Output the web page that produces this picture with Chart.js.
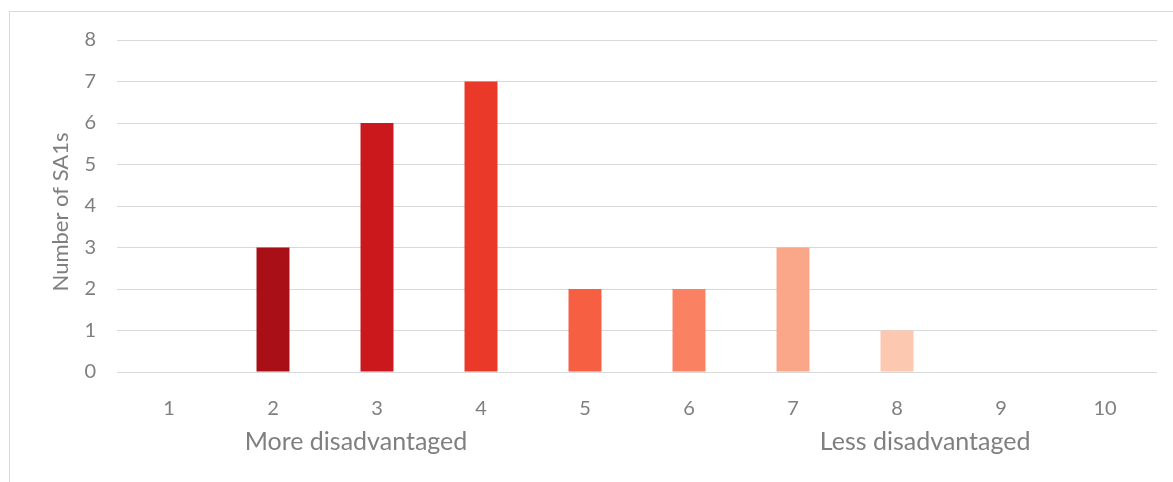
<!DOCTYPE html>
<html>
<head>
<meta charset="utf-8">
<script src="https://cdn.jsdelivr.net/npm/chart.js@4/dist/chart.umd.min.js"></script>
<style>
  html, body { margin: 0; padding: 0; background: #ffffff; }
  #wrap { width: 1173px; height: 482px; position: relative; }
</style>
</head>
<body>
<div id="wrap"><canvas id="c" width="1173" height="482"></canvas></div>
<script>
const categories = ['1', '2', '3', '4', '5', '6', '7', '8', '9', '10'];
const sa1Counts = [0, 3, 6, 7, 2, 2, 3, 1, 0, 0];
const barColors = ['#67000D', '#A80F17', '#CB181D', '#EA3829', '#F75F43', '#FA8262', '#FAA689', '#FCC8AF', '#FEE0D2', '#FFF5F0'];
const yTitle = 'Number of SA1s';
const bottomNotes = ['More disadvantaged', 'Less disadvantaged'];

const FONT = "Lato, 'Open Sans', sans-serif";
const GRAY = '#7f7f7f';

const extras = {
  id: 'extras',
  beforeDraw(chart) {
    const ctx = chart.ctx;
    ctx.save();
    ctx.strokeStyle = '#d9d9d9';
    ctx.lineWidth = 1;
    ctx.strokeRect(9.5, 11.5, 1300, 600);
    ctx.restore();
  },
  afterDraw(chart) {
    const ctx = chart.ctx;
    const a = chart.chartArea;
    const w = a.right - a.left;
    ctx.save();
    ctx.fillStyle = GRAY;
    ctx.font = '25px ' + FONT;
    ctx.textAlign = 'center';
    ctx.textBaseline = 'middle';
    ctx.fillText(bottomNotes[0], a.left + w * 0.2298, 442);
    ctx.fillText(bottomNotes[1], a.left + w * 0.7771, 442);
    ctx.translate(61, (a.top + a.bottom) / 2 + 6);
    ctx.rotate(-Math.PI / 2);
    ctx.font = '22px ' + FONT;
    ctx.fillText(yTitle, 0, 0);
    ctx.restore();
  }
};

new Chart(document.getElementById('c'), {
  type: 'bar',
  data: {
    labels: categories,
    datasets: [{
      data: sa1Counts,
      backgroundColor: barColors,
      borderWidth: 0,
      categoryPercentage: 1.0,
      barPercentage: 0.317
    }]
  },
  options: {
    responsive: false,
    animation: false,
    devicePixelRatio: 1,
    layout: { padding: { left: 0, top: 40, right: 16, bottom: 0 } },
    plugins: {
      legend: { display: false },
      tooltip: { enabled: false }
    },
    scales: {
      x: {
        grid: { display: false, drawTicks: false },
        border: { display: false },
        ticks: { color: GRAY, font: { family: FONT, size: 20 }, padding: 25 },
        afterFit(s) { s.height = 110; }
      },
      y: {
        min: 0,
        max: 8,
        ticks: { stepSize: 1, color: GRAY, font: { family: FONT, size: 20 }, padding: 21 },
        grid: { color: '#d9d9d9', lineWidth: 1, drawTicks: false },
        border: { display: false },
        title: { display: false },
        afterFit(s) { s.width = 117; }
      }
    }
  },
  plugins: [extras]
});
</script>
</body>
</html>
